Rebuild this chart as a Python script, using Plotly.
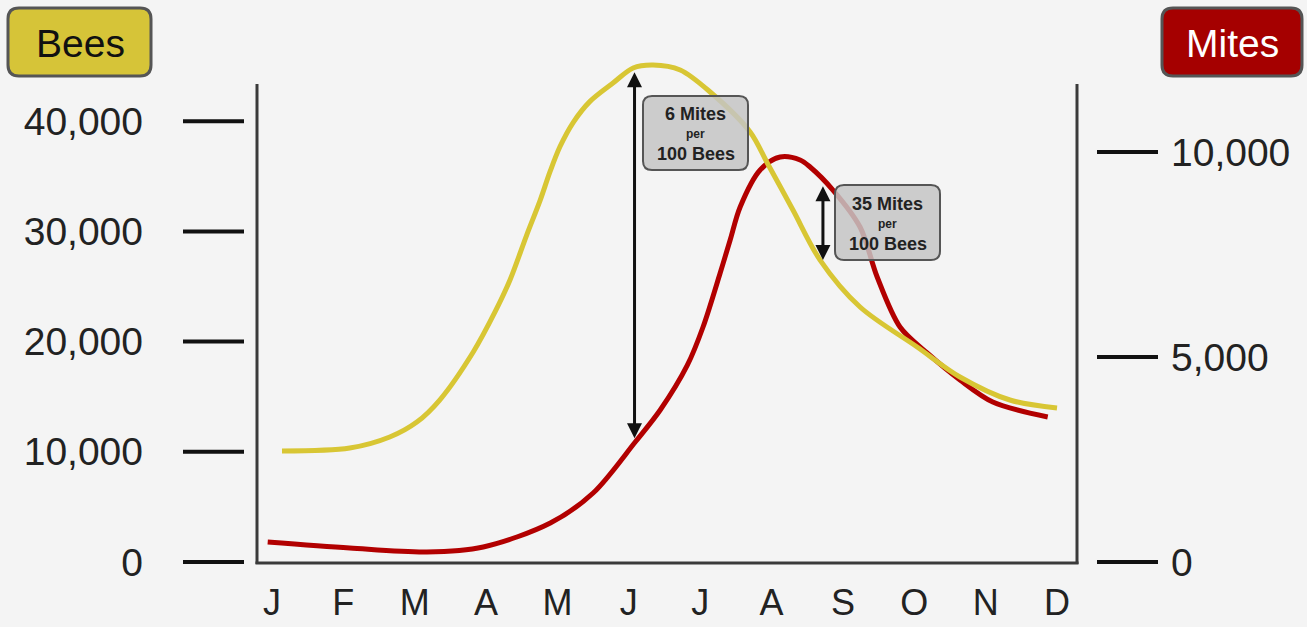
import plotly.graph_objects as go

# ---------------- data ----------------
months = ["J", "F", "M", "A", "M", "J", "J", "A", "S", "O", "N", "D"]
month_pos = list(range(12))

bees_x = [0.14, 1.09, 1.65, 2.03, 2.35, 2.82, 3.125, 3.335, 3.569, 3.756, 3.896, 4.036, 4.222,
          4.456, 4.783, 5.06, 5.34, 5.72, 6.14, 6.70, 6.94, 7.30, 7.68, 8.24, 9.04, 9.64,
          10.34, 11.00]
bees_y = [10070, 10340, 11340, 12700, 14700, 19060, 22690, 25590, 29670, 32790, 35420, 37700, 39900,
          41800, 43490, 44830, 45100, 44650, 42650, 39020, 36210, 31940, 27400, 23140, 19510, 16790,
          14700, 13970]

mites_x = [-0.06, 1.09, 2.17, 2.96, 3.90, 4.50, 5.09, 5.44, 5.82, 6.04, 6.28, 6.42, 6.56,
           6.84, 7.12, 7.40, 7.54, 7.86, 8.24, 8.48, 8.80, 9.18, 9.64, 10.10, 10.87]
mites_y = [488, 341, 244, 366, 951, 1683, 2927, 3707, 4800, 5732, 7049, 7854, 8659,
           9561, 9878, 9805, 9634, 9073, 8171, 6951, 5732, 5098, 4439, 3902, 3537]

bees_ticks = [0, 10000, 20000, 30000, 40000]
mites_ticks = [0, 5000, 10000]

# ratio callouts: month position, top (bees), bottom (bees scale), texts
note_x = [5.08, 7.72]
note_top = [44450, 34100]
note_bottom = [11100, 27270]
note_head = ["6 Mites", "35 Mites"]
note_mid = ["per", "per"]
note_tail = ["100 Bees", "100 Bees"]

# ---------------- styling / layout ----------------
FONT = "Liberation Sans, Arial, sans-serif"
BG = "#f4f4f4"
YELLOW = "rgb(216,198,52)"
RED = "rgb(178,0,0)"
L, R, T, B = 257, 1077, 50, 562
W, H = R - L, B - T
BEES_TOP = H / 0.01102
MITES_TOP = H / 0.041


def px(x):
    return (x - L) / W


def py(y):
    return (B - y) / H


def rrect(x0, y0, x1, y1, r):
    pts = [("M", [(x0 + r, y0)]), ("L", [(x1 - r, y0)]), ("Q", [(x1, y0), (x1, y0 + r)]),
           ("L", [(x1, y1 - r)]), ("Q", [(x1, y1), (x1 - r, y1)]), ("L", [(x0 + r, y1)]),
           ("Q", [(x0, y1), (x0, y1 - r)]), ("L", [(x0, y0 + r)]), ("Q", [(x0, y0), (x0 + r, y0)])]
    s = ""
    for cmd, ps in pts:
        s += cmd + " " + " ".join(f"{px(a):.5f},{py(b):.5f}" for a, b in ps) + " "
    return s + "Z"


fig = go.Figure()

fig.add_trace(go.Scatter(x=mites_x, y=mites_y, mode="lines", yaxis="y",
                         line=dict(color=RED, width=5, shape="spline", smoothing=0.9),
                         hoverinfo="skip", showlegend=False))
fig.add_trace(go.Scatter(x=bees_x, y=bees_y, mode="lines", yaxis="y2",
                         line=dict(color=YELLOW, width=5, shape="spline", smoothing=0.9),
                         hoverinfo="skip", showlegend=False))

shapes = []
AX = "#3a3a3a"
# axis frame lines
shapes.append(dict(type="line", xref="paper", yref="paper", x0=0, x1=0, y0=py(564), y1=py(84),
                   line=dict(color=AX, width=3), layer="above"))
shapes.append(dict(type="line", xref="paper", yref="paper", x0=1, x1=1, y0=py(564), y1=py(84),
                   line=dict(color=AX, width=3), layer="above"))
shapes.append(dict(type="line", xref="paper", yref="paper", x0=px(255.5), x1=px(1078.5),
                   y0=py(563), y1=py(563), line=dict(color=AX, width=3), layer="above"))
# detached tick dashes (placed via each axis' scale)
for v in bees_ticks:
    yy = v / BEES_TOP
    shapes.append(dict(type="line", xref="paper", yref="paper", x0=px(183), x1=px(244), y0=yy, y1=yy,
                       line=dict(color="#111", width=4)))
for v in mites_ticks:
    yy = v / MITES_TOP
    shapes.append(dict(type="line", xref="paper", yref="paper", x0=px(1097), x1=px(1158), y0=yy, y1=yy,
                       line=dict(color="#111", width=4)))
# axis title boxes
shapes.append(dict(type="path", xref="paper", yref="paper", path=rrect(8, 8, 151, 76, 11),
                   fillcolor="rgb(214,196,56)", line=dict(color="#555", width=3)))
shapes.append(dict(type="path", xref="paper", yref="paper", path=rrect(1162, 8, 1302, 76, 11),
                   fillcolor="rgb(165,0,0)", line=dict(color="#555", width=3)))
# callout boxes
note_boxes = [(643, 96, 748, 170), (835, 185, 940, 260)]
for (x0, y0, x1, y1) in note_boxes:
    shapes.append(dict(type="path", xref="paper", yref="paper", path=rrect(x0, y0, x1, y1, 9),
                       fillcolor="rgba(196,196,196,0.85)", line=dict(color="#555", width=2),
                       layer="above"))

annotations = []
annotations.append(dict(text="Bees", xref="paper", yref="paper", x=px(80), y=py(43),
                        xanchor="center", yanchor="middle", showarrow=False,
                        font=dict(family=FONT, size=39, color="#111")))
annotations.append(dict(text="Mites", xref="paper", yref="paper", x=px(1232), y=py(43),
                        xanchor="center", yanchor="middle", showarrow=False,
                        font=dict(family=FONT, size=39, color="white")))
for i in range(2):
    annotations.append(dict(text="", x=note_x[i], y=note_top[i], xref="x", yref="y2",
                            ax=note_x[i], ay=note_bottom[i], axref="x", ayref="y2",
                            showarrow=True, arrowside="end+start", arrowhead=2, startarrowhead=2,
                            arrowsize=1.0, startarrowsize=1.0, arrowwidth=3, arrowcolor="#111",
                            standoff=0, startstandoff=0))
    x0, y0, x1, y1 = note_boxes[i]
    cx = (x0 + x1) / 2
    cy = (y0 + y1) / 2
    for txt, dy, sz in [(note_head[i], -19, 18), (note_mid[i], 1, 12), (note_tail[i], 21, 18)]:
        annotations.append(dict(text=f"<b>{txt}</b>", xref="paper", yref="paper",
                                x=px(cx), y=py(cy + dy), xanchor="center", yanchor="middle",
                                showarrow=False, font=dict(family=FONT, size=sz, color="#222")))

fig.update_layout(
    width=1307, height=627,
    margin=dict(l=L, r=1307 - R, t=T, b=627 - B, pad=0, autoexpand=False),
    paper_bgcolor=BG, plot_bgcolor=BG,
    showlegend=False,
    font=dict(family=FONT, color="#222"),
    xaxis=dict(range=[-0.21, 11.28], tickvals=month_pos, ticktext=months, showgrid=False,
               zeroline=False, showline=False, ticks="", ticklabelstandoff=16, automargin=False,
               tickfont=dict(family=FONT, size=36, color="#222"), fixedrange=True),
    yaxis=dict(range=[0, MITES_TOP], side="right", tickvals=mites_ticks, tickformat=",d",
               showgrid=False, zeroline=False, showline=False, ticks="", ticklabelstandoff=93,
               automargin=False,
               tickfont=dict(family=FONT, size=39, color="#222"), fixedrange=True),
    yaxis2=dict(range=[0, BEES_TOP], side="left", overlaying="y", anchor="x",
                tickvals=bees_ticks, tickformat=",d", showgrid=False, zeroline=False,
                showline=False, ticks="", ticklabelstandoff=113, automargin=False,
                tickfont=dict(family=FONT, size=39, color="#222"), fixedrange=True),
    shapes=shapes,
    annotations=annotations,
)

fig.write_html("out.html", config={"displayModeBar": False},
               post_script="document.body.style.margin='0';document.body.style.overflow='hidden';")
